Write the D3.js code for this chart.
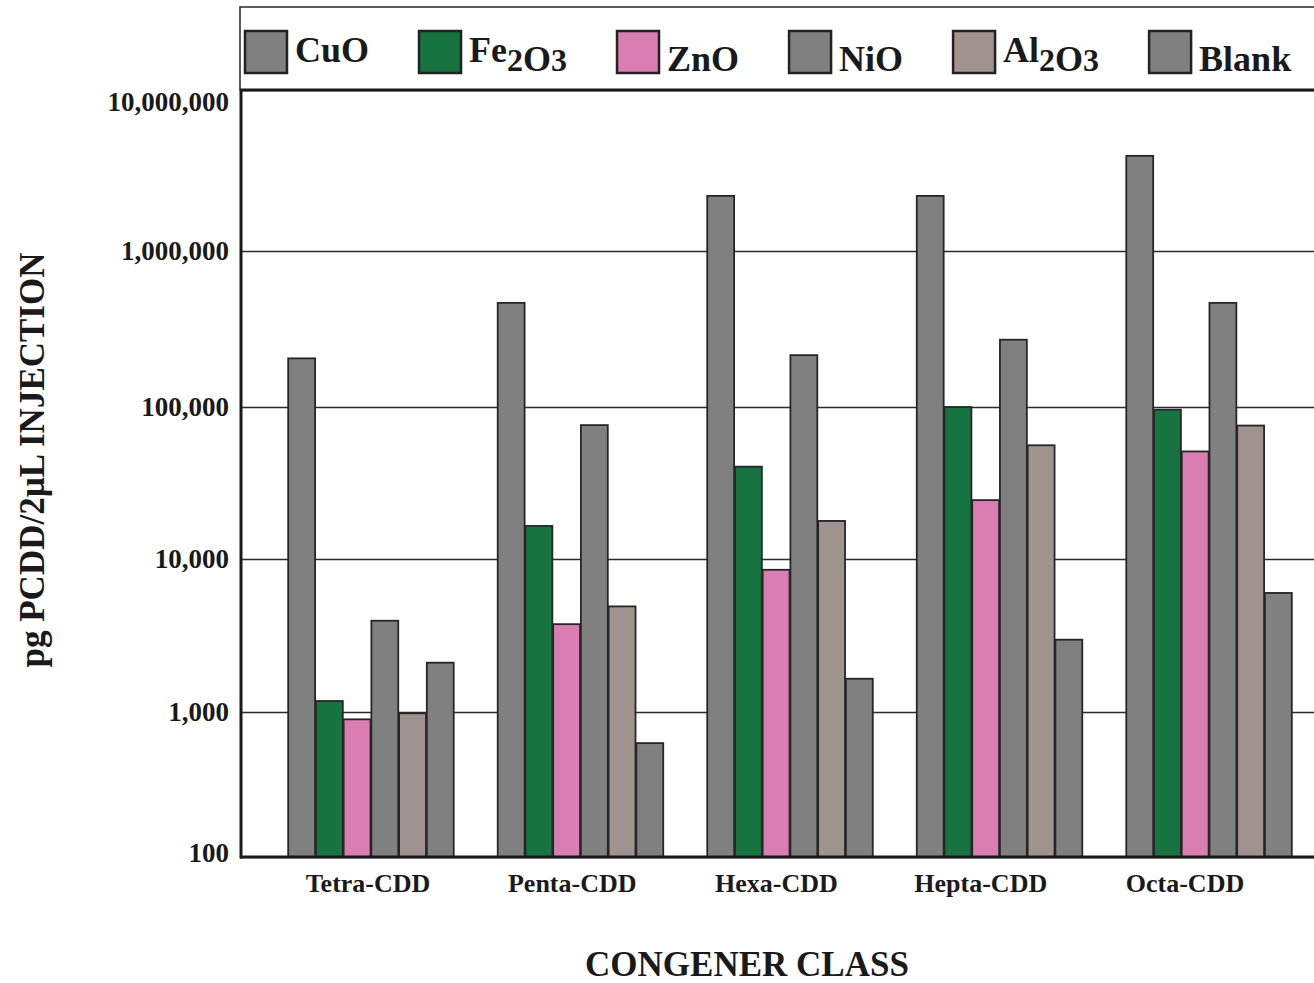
<!DOCTYPE html>
<html>
<head>
<meta charset="utf-8">
<script src="https://cdn.jsdelivr.net/npm/d3@7"></script>
<style>
  html, body { margin: 0; padding: 0; background: #fff; }
  svg { display: block; }
  text { font-family: "Liberation Serif", "Times New Roman", serif; font-weight: bold; fill: #1a1a1a; }
</style>
</head>
<body>
<svg id="chart" width="1314" height="983"></svg>
<script>
// PCDD congener output per catalyst (pg per 2 µL injection)
const categories = ["Tetra-CDD", "Penta-CDD", "Hexa-CDD", "Hepta-CDD", "Octa-CDD"];
const seriesNames = ["CuO", "Fe2O3", "ZnO", "NiO", "Al2O3", "Blank"];

const cuo   = [205000, 465000, 2200000, 2200000, 3900000];
const fe2o3 = [1180, 16500, 40500, 100000, 96000];
const zno   = [890, 3750, 8500, 24400, 51000];
const nio   = [3950, 76000, 215000, 270000, 465000];
const al2o3 = [980, 4900, 17800, 56000, 75500];
const blank = [2100, 610, 1650, 2970, 6000];

const tickValues = [100, 1000, 10000, 100000, 1000000, 10000000];
const tickLabels = ["100", "1,000", "10,000", "100,000", "1,000,000", "10,000,000"];

const seriesValues = [cuo, fe2o3, zno, nio, al2o3, blank];
const colors = ["#808080", "#17733f", "#d97db3", "#808080", "#a0928f", "#808080"];

const W = 1314, H = 983;
const plotLeft = 240, plotTop = 90, plotBottom = 857, plotRight = 1340;

const svg = d3.select("#chart");

// Log axis; decade lines are spaced slightly unevenly on the printed axis
const y = d3.scaleLog()
  .domain(tickValues)
  .range([857, 712, 559, 407, 251, 90]);

const x0 = d3.scaleBand().domain(categories).range([plotLeft, plotRight])
  .paddingInner(0.21).paddingOuter(0.23);
const x1 = d3.scaleBand().domain(seriesNames).range([0, x0.bandwidth()])
  .paddingInner(0.03);
// Category captions sit on their own, slightly tighter spacing
const xLabel = d3.scalePoint().domain(categories).range([368, 1185]);

// Legend frame
svg.append("rect")
  .attr("x", plotLeft).attr("y", 7)
  .attr("width", W - plotLeft + 10).attr("height", plotTop - 7)
  .attr("fill", "#fff").attr("stroke", "#333").attr("stroke-width", 1.6);

// Gridlines
const grid = svg.append("g")
  .attr("transform", `translate(${plotLeft},0)`)
  .call(d3.axisLeft(y).tickValues(tickValues).tickSize(-(W - plotLeft)).tickFormat(""));
grid.select(".domain").remove();
grid.selectAll(".tick line").attr("stroke", "#2a2a2a").attr("stroke-width", 1.5);

// Bars
const rows = categories.map((c, i) => ({
  cat: c,
  vals: seriesNames.map((s, j) => ({ s, j, v: seriesValues[j][i] }))
}));

svg.append("g").selectAll("g")
  .data(rows).join("g")
  .attr("transform", d => `translate(${x0(d.cat)},0)`)
  .selectAll("rect")
  .data(d => d.vals).join("rect")
  .attr("x", d => x1(d.s))
  .attr("width", x1.bandwidth())
  .attr("y", d => y(d.v))
  .attr("height", d => y(100) - y(d.v))
  .attr("fill", d => colors[d.j])
  .attr("stroke", "#262626")
  .attr("stroke-width", 1.8);

// Frame lines: top, left axis, baseline
svg.append("line").attr("x1", plotLeft).attr("x2", W).attr("y1", plotTop).attr("y2", plotTop)
  .attr("stroke", "#1a1a1a").attr("stroke-width", 3);
svg.append("line").attr("x1", plotLeft + 1).attr("x2", plotLeft + 1).attr("y1", plotTop).attr("y2", plotBottom + 1.5)
  .attr("stroke", "#1a1a1a").attr("stroke-width", 3);
svg.append("line").attr("x1", plotLeft).attr("x2", W).attr("y1", plotBottom).attr("y2", plotBottom)
  .attr("stroke", "#1a1a1a").attr("stroke-width", 3);

// Y tick labels
const yAxis = svg.append("g")
  .attr("transform", `translate(${plotLeft},0)`)
  .call(d3.axisLeft(y).tickValues(tickValues).tickSize(0).tickPadding(11)
    .tickFormat((d, i) => tickLabels[i]));
yAxis.select(".domain").remove();
yAxis.selectAll("text")
  .attr("font-size", 27)
  .attr("font-family", "Liberation Serif, Times New Roman, serif")
  .attr("font-weight", "bold")
  .attr("fill", "#1a1a1a")
  .attr("dy", d => d === tickValues[tickValues.length - 1] ? "0.75em" : (d === tickValues[0] ? "0.15em" : "0.32em"));

// Category labels
svg.append("g").selectAll("text")
  .data(categories).join("text")
  .attr("x", d => xLabel(d))
  .attr("y", 892)
  .attr("text-anchor", "middle")
  .attr("font-size", 26)
  .text(d => d);

// Axis titles
svg.append("text")
  .attr("x", 747).attr("y", 976)
  .attr("text-anchor", "middle")
  .attr("font-size", 35)
  .text("CONGENER CLASS");

svg.append("text")
  .attr("transform", "translate(44,460) rotate(-90)")
  .attr("text-anchor", "middle")
  .attr("font-size", 35)
  .text("pg PCDD/2µL INJECTION");

// Legend: labels with chemical subscripts
const legendParts = [
  [["CuO", "main"]],
  [["Fe", "main"], ["2", "sub"], ["O", "low"], ["3", "sub"]],
  [["ZnO", "low"]],
  [["NiO", "low"]],
  [["Al", "main"], ["2", "sub"], ["O", "low"], ["3", "sub"]],
  [["Blank", "low"]]
];
const legendBaseline = 62, lowBaseline = 71;
let lx = 245;
legendParts.forEach((parts, i) => {
  const g = svg.append("g");
  g.append("rect")
    .attr("x", lx).attr("y", 31)
    .attr("width", 42).attr("height", 42)
    .attr("fill", colors[i])
    .attr("stroke", "#222").attr("stroke-width", 2.5);
  const t = g.append("text")
    .attr("x", lx + 50).attr("y", legendBaseline)
    .attr("font-size", 36);
  parts.forEach(([str, kind]) => {
    t.append("tspan")
      .attr("y", kind === "main" ? legendBaseline : lowBaseline)
      .attr("font-size", kind === "sub" ? 32 : 36)
      .text(str);
  });
  const w = t.node().getComputedTextLength();
  lx = lx + 50 + w + 50;
});
</script>
</body>
</html>
